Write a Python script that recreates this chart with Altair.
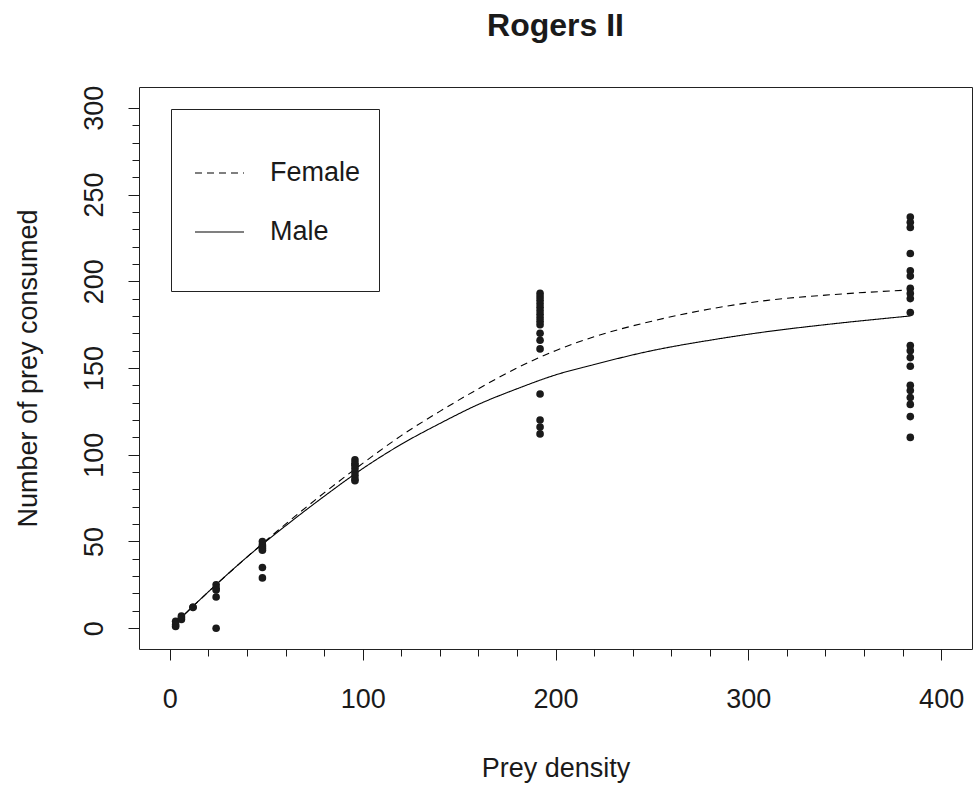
import altair as alt
import pandas as pd

# ---- data ----
densities = [3, 6, 12, 24, 48, 96, 192, 384]
consumed = [
    [1, 2, 4],
    [5, 6, 7],
    [12, 12],
    [25, 23, 22, 18, 0],
    [50, 48, 47, 46, 45, 35, 29],
    [97, 95, 94, 92, 90, 88, 86, 85],
    [193, 191, 189, 187, 185, 183, 181, 179, 177, 175, 170, 166, 161, 135, 120, 116, 112],
    [237, 234, 231, 216, 206, 203, 196, 193, 190, 182, 163, 160, 156, 151, 140, 137, 133, 129, 122, 110],
]

curve_x = [3, 20, 40, 60, 80, 100, 120, 140, 160, 180, 200, 220, 250, 280, 310, 340, 384]
female_fit = [3, 21, 41, 60, 78, 95, 111, 125, 138, 150, 160, 168, 177, 184, 189, 192, 195]
male_fit = [3, 21, 41, 59, 76, 92, 106, 118, 129, 138, 146, 152, 160, 166, 171, 175, 180]

sexes = ["Female", "Male"]
x_ticks = list(range(0, 401, 20))
y_ticks = list(range(0, 301, 10))

# ---- tables ----
pts = pd.DataFrame(
    [(d, v) for d, vals in zip(densities, consumed) for v in vals],
    columns=["density", "consumed"],
)
curves = pd.DataFrame(
    {
        "density": curve_x * 2,
        "consumed": female_fit + male_fit,
        "sex": [sexes[0]] * len(curve_x) + [sexes[1]] * len(curve_x),
        "order": list(range(len(curve_x))) * 2,
    }
)

FONT = "Liberation Sans"
INK = "#1a1a1a"

x_scale = alt.Scale(domain=[-16, 416], nice=False, zero=False)
y_scale = alt.Scale(domain=[-12, 312], nice=False, zero=False)

x_axis = alt.Axis(
    values=x_ticks,
    labelExpr="datum.value % 100 === 0 ? datum.label : ''",
    tickSize={"condition": {"test": "datum.value % 100 === 0", "value": 11}, "value": 7},
    labelOverlap=False,
    grid=False,
    domain=False,
    tickColor=INK,
    labelColor=INK,
    labelFont=FONT,
    labelFontSize=27,
    labelPadding=26,
    title="Prey density",
    titleFont=FONT,
    titleFontSize=27,
    titleFontWeight="normal",
    titleColor=INK,
    titlePadding=43,
)
y_axis = alt.Axis(
    values=y_ticks,
    labelExpr="datum.value % 50 === 0 ? datum.label : ''",
    tickSize={"condition": {"test": "datum.value % 50 === 0", "value": 11}, "value": 7},
    labelOverlap=False,
    grid=False,
    domain=False,
    tickColor=INK,
    labelColor=INK,
    labelFont=FONT,
    labelFontSize=27,
    labelAngle=270,
    labelPadding=20,
    title="Number of prey consumed",
    titleFont=FONT,
    titleFontSize=27,
    titleFontWeight="normal",
    titleColor=INK,
    titlePadding=38,
)

points = (
    alt.Chart(pts)
    .mark_circle(size=58, color=INK, opacity=1)
    .encode(
        x=alt.X("density:Q", scale=x_scale, axis=x_axis),
        y=alt.Y("consumed:Q", scale=y_scale, axis=y_axis),
    )
)

lines = (
    alt.Chart(curves)
    .mark_line(color="black", strokeWidth=1.1, interpolate="monotone")
    .encode(
        x=alt.X("density:Q", scale=x_scale, axis=x_axis),
        y=alt.Y("consumed:Q", scale=y_scale, axis=y_axis),
        detail="sex:N",
        order="order:Q",
        strokeDash=alt.StrokeDash(
            "sex:N",
            scale=alt.Scale(domain=sexes, range=[[7, 5], [1, 0]]),
            legend=alt.Legend(
                title=" ",
                titleOrient="bottom",
                titleFontSize=10,
                titlePadding=16.5,
                orient="none",
                legendX=32,
                legendY=22,
                padding=18.5,
                strokeColor="#222",
                fillColor="white",
                symbolType="M-0.5506,0H0.5506",
                symbolSize=7921,
                symbolOffset={"expr": "-15.5"},
                symbolStrokeWidth=1.1,
                symbolStrokeColor="black",
                labelFont=FONT,
                labelFontSize=27,
                labelColor=INK,
                labelOffset=5,
                rowPadding=0,
            ),
        ),
    )
)

chart = (
    alt.layer(lines, points)
    .properties(
        width=833,
        height=562,
        padding={"left": 139, "top": 87, "right": 1, "bottom": 138},
        autosize=alt.AutoSizeParams(type="none"),
        title=alt.TitleParams(
            "Rogers II",
            font=FONT,
            fontSize=32,
            fontWeight="bold",
            color=INK,
            anchor="middle",
            baseline="alphabetic",
            offset=17,
        ),
        background="white",
    )
    .configure_axis(labelOverlap=False)
    .configure_view(stroke="#222", strokeWidth=1)
)

chart.save("out.html", embed_options={"renderer": "svg", "actions": False})
